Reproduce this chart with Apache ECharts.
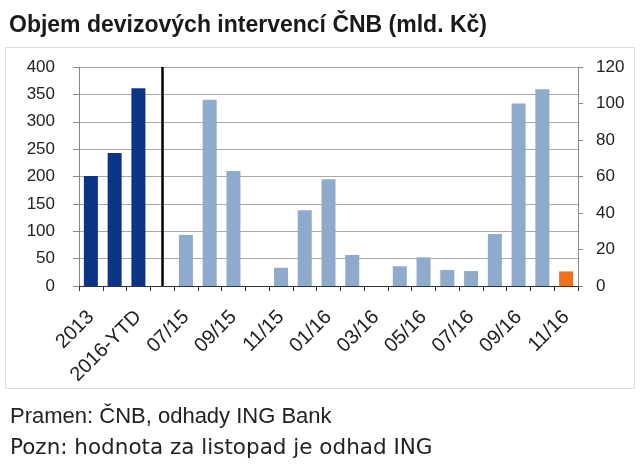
<!DOCTYPE html>
<html><head><meta charset="utf-8">
<script src="https://cdn.jsdelivr.net/npm/echarts@6/dist/echarts.min.js"></script>
<style>html,body{margin:0;padding:0;background:#fff}#c{width:640px;height:468px}</style>
</head><body><div id="c"></div>
<script>
const categories = ['2013','2015','2016-YTD','','07/15','08/15','09/15','10/15','11/15','12/15','01/16','02/16','03/16','04/16','05/16','06/16','07/16','08/16','09/16','10/16','11/16'];
const annualValues = [201, 243, 361, null, null, null, null, null, null, null, null, null, null, null, null, null, null, null, null, null, null];
const monthlyValues = [null, null, null, null, 28, 102, 63, 0, 10, 41.5, 58.5, 17, 0, 10.8, 15.7, 8.8, 8.2, 28.5, 100, 107.8, null];
const estimateValues = [null, null, null, null, null, null, null, null, null, null, null, null, null, null, null, null, null, null, null, null, 8];
const leftTicks = {min: 0, max: 400, interval: 50};
const rightTicks = {min: 0, max: 120, interval: 20};
const titleText = 'Objem devizových intervencí ČNB (mld. Kč)';
const note1 = 'Pramen: ČNB, odhady ING Bank';
const note2 = 'Pozn: hodnota za listopad je odhad ING';

const FONT = 'Liberation Sans, Arial, sans-serif';
const chart = echarts.init(document.getElementById('c'));
chart.setOption({
  animation: false,
  backgroundColor: '#fff',
  title: [
    {text: titleText, left: 4, top: 9, textStyle: {fontFamily: FONT, fontSize: 23, fontWeight: 'bold', color: '#1a1a1a'}},
    {text: note1, left: 5, top: 401, textStyle: {fontFamily: FONT, fontSize: 22, fontWeight: 'normal', color: '#222'}},
    {text: note2, left: 5, top: 432, textStyle: {fontFamily: 'DejaVu Sans, ' + FONT, fontSize: 21.5, fontWeight: 'normal', color: '#222'}}
  ],
  graphic: [
    {type: 'rect', shape: {x: 5.5, y: 47.5, width: 629, height: 341}, style: {fill: null, stroke: '#dcdcdc', lineWidth: 1}, z: -1}
  ],
  grid: {left: 79, right: 62, top: 67, bottom: 182, containLabel: false},
  xAxis: {
    type: 'category', data: categories,
    axisLine: {lineStyle: {color: '#333', width: 1}},
    axisTick: {show: true, interval: 0, length: 5, lineStyle: {color: '#333'}},
    axisLabel: {interval: 1, rotate: 45, fontFamily: FONT, fontSize: 20, color: '#222', margin: 28}
  },
  yAxis: [
    {type: 'value', min: leftTicks.min, max: leftTicks.max, interval: leftTicks.interval, position: 'left',
     axisLine: {show: true, lineStyle: {color: '#888'}},
     axisTick: {show: true, length: 6, lineStyle: {color: '#888'}},
     axisLabel: {fontFamily: FONT, fontSize: 17, color: '#222', margin: 24},
     splitLine: {show: true, lineStyle: {color: '#a8a8a8', width: 1}}},
    {type: 'value', min: rightTicks.min, max: rightTicks.max, interval: rightTicks.interval, position: 'right',
     axisLine: {show: true, lineStyle: {color: '#888'}},
     axisTick: {show: true, length: 5, lineStyle: {color: '#888'}},
     axisLabel: {fontFamily: FONT, fontSize: 17, color: '#222', margin: 18},
     splitLine: {show: false}}
  ],
  series: [
    {type: 'bar', name: 'roky', data: annualValues, yAxisIndex: 0, barWidth: 14, barGap: '-100%',
     itemStyle: {color: '#0b3486'},
     markLine: {symbol: 'none', silent: true, label: {show: false},
       lineStyle: {color: '#000', width: 2.5, type: 'solid'},
       data: [[{coord: [3, 400]}, {coord: [3, 0]}]]}},
    {type: 'bar', name: 'měsíce', data: monthlyValues, yAxisIndex: 1, barWidth: 14, barGap: '-100%',
     itemStyle: {color: '#8eaacc'}},
    {type: 'bar', name: 'odhad', data: estimateValues, yAxisIndex: 1, barWidth: 14, barGap: '-100%',
     itemStyle: {color: '#f0701e'}}
  ]
});
</script></body></html>
